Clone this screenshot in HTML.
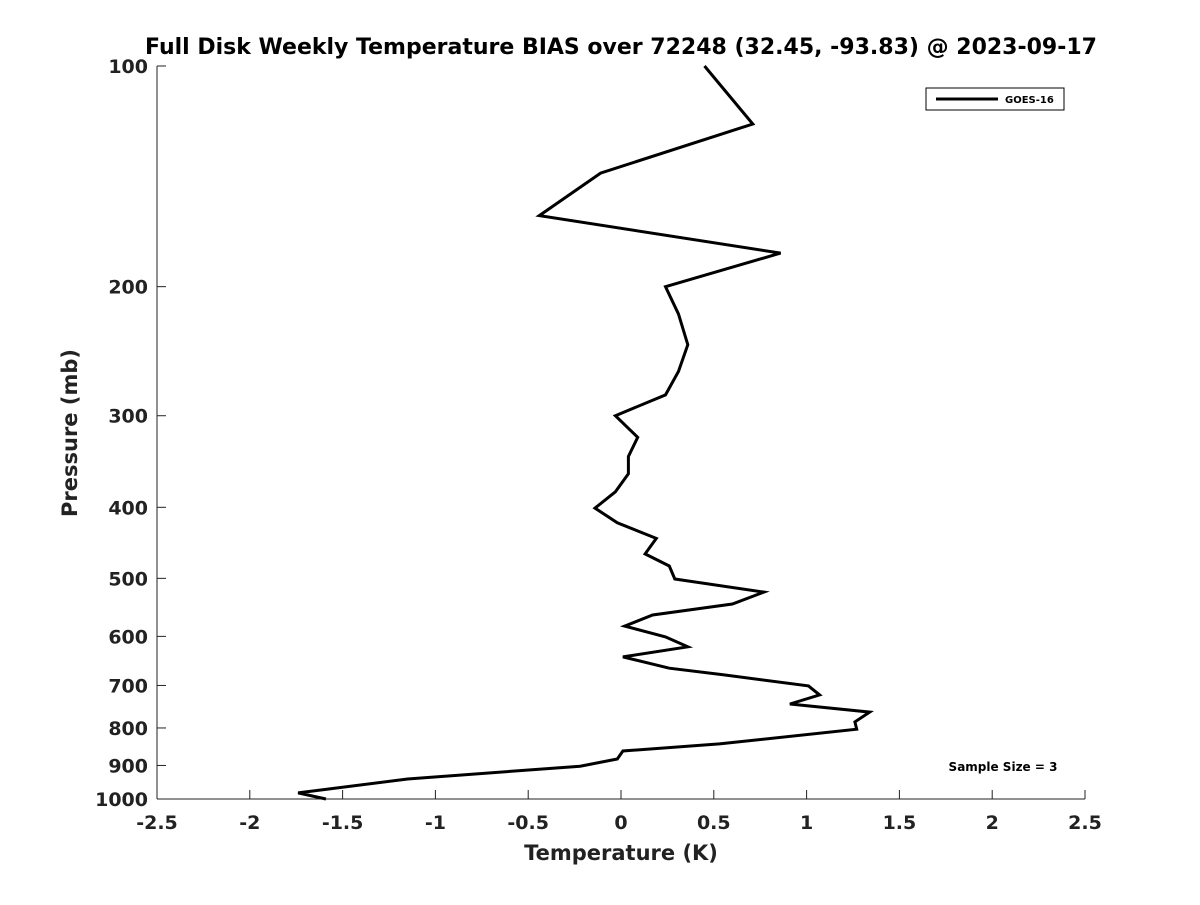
<!DOCTYPE html>
<html><head><meta charset="utf-8"><style>
body{margin:0;background:#fff;}
svg text{font-family:"DejaVu Sans","Liberation Sans",sans-serif;font-weight:bold;fill:#222;}
</style></head><body>
<svg id="chart" width="1200" height="900" xmlns="http://www.w3.org/2000/svg">
<rect width="1200" height="900" fill="#fff"/>
<text x="621" y="54" font-size="22" text-anchor="middle" style="fill:#000">Full Disk Weekly Temperature BIAS over 72248 (32.45, -93.83) @ 2023-09-17</text>
<g id="axes"></g>
<path id="series" fill="none" stroke="#000" stroke-width="3" stroke-linejoin="miter"/>
<text x="621" y="860" font-size="21" text-anchor="middle">Temperature (K)</text>
<text transform="translate(77,433) rotate(-90)" font-size="21" text-anchor="middle">Pressure (mb)</text>
<g>
<rect x="926" y="88" width="138" height="22" fill="#fff" stroke="#000" stroke-width="1"/>
<line x1="936" y1="99" x2="998" y2="99" stroke="#000" stroke-width="3"/>
<text x="1005" y="103" font-size="10" style="fill:#000">GOES-16</text>
</g>
<text x="1003" y="771" font-size="12" text-anchor="middle" style="fill:#000">Sample Size = 3</text>
</svg>
<script>
const biasValues=[0.45,0.71,-0.11,-0.44,0.86,0.24,0.31,0.36,0.31,0.24,-0.03,0.09,0.04,0.04,-0.03,-0.14,-0.02,0.19,0.13,0.26,0.29,0.77,0.60,0.17,0.02,0.24,0.36,0.01,0.26,0.55,1.01,1.07,0.91,1.34,1.26,1.27,0.53,0.01,-0.02,-0.22,-1.15,-1.74,-1.59];
const pressureLevels=[100,120,140,160,180,200,218,240,261,281,300,321,341,360,381,401,420,441,463,481,501,522,542,561,581,601,620,640,663,677,701,721,742,761,785,803,841,860,882,902,939,981,1000];
const xTicks=[-2.5,-2,-1.5,-1,-0.5,0,0.5,1,1.5,2,2.5];
const yTicks=[100,200,300,400,500,600,700,800,900,1000];
const X0=157,X1=1085,Y0=66,Y1=799;
const xs=v=>X0+(v+2.5)/5*(X1-X0);
const ys=p=>Y0+Math.log10(p/100)*(Y1-Y0);
const NS="http://www.w3.org/2000/svg";
const ax=document.getElementById('axes');
function mk(tag,attrs,txt){const e=document.createElementNS(NS,tag);for(const k in attrs)e.setAttribute(k,attrs[k]);if(txt!==undefined)e.textContent=txt;ax.appendChild(e);return e;}
const xl=mk('line',{x1:X0,y1:Y1,x2:X1,y2:Y1,stroke:'#222','stroke-width':1});


const yl=mk('line',{x1:X0,y1:Y0,x2:X0,y2:Y1,stroke:'#222','stroke-width':1});


xTicks.forEach(t=>{
 const x=xs(t);
 const tk=mk('line',{x1:x,y1:Y1,x2:x,y2:Y1-9,stroke:'#222','stroke-width':1});
 
 
 const lb=mk('text',{x:x,y:Y1+30,'font-size':19,'text-anchor':'middle'},String(t));
 
 
});
yTicks.forEach(t=>{
 const y=ys(t);
 const tk=mk('line',{x1:X0,y1:y,x2:X0+9,y2:y,stroke:'#222','stroke-width':1});
 
 
 const lb=mk('text',{x:X0-9,y:y+7,'font-size':19,'text-anchor':'end'},String(t));
 
 
});
let d='';
biasValues.forEach((v,i)=>{d+=(i?'L':'M')+xs(v).toFixed(1)+','+ys(pressureLevels[i]).toFixed(1);});
document.getElementById('series').setAttribute('d',d);
</script>
</body></html>
